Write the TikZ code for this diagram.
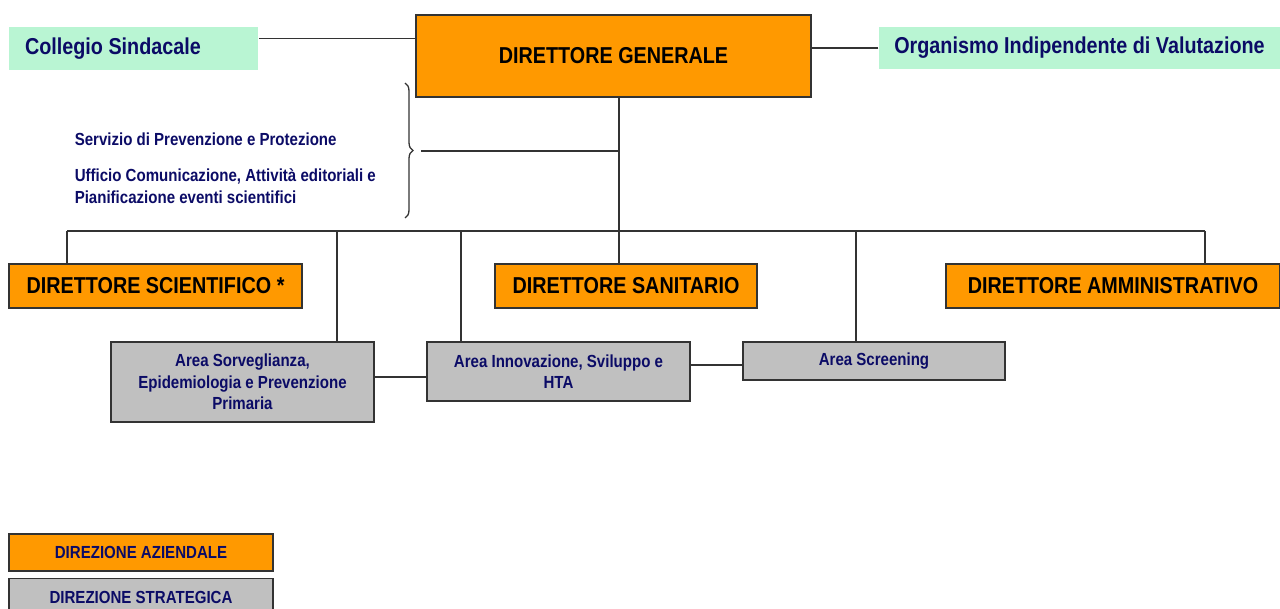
\documentclass[tikz,border=0pt]{standalone}
\usepackage{fontspec}
\setmainfont{Liberation Sans}[FakeStretch=0.86]
\usepackage{xcolor}
\usepackage{tikz}
\usetikzlibrary{calc,decorations.pathreplacing}
\definecolor{arancio}{HTML}{FF9900}
\definecolor{verdino}{HTML}{B9F5D3}
\definecolor{grigio}{HTML}{C0C0C0}
\definecolor{blunotte}{HTML}{0B0B66}
\definecolor{bordo}{HTML}{333333}

\begin{document}
\begin{tikzpicture}[x=1pt,y=-1pt,line width=1.5pt,draw=bordo,every edge/.style={draw=bordo,line width=1.6pt}]

  \useasboundingbox (0,0) rectangle (1280,609);
    \tikzstyle{dirbox}=[rectangle,draw=bordo,line width=1.5pt,fill=arancio,inner sep=0pt,text=black,font=\bfseries\fontsize{23}{26}\selectfont]
    \tikzstyle{areabox}=[rectangle,draw=bordo,line width=1.5pt,fill=grigio,inner sep=0pt,text=blunotte,align=center,font=\bfseries\fontsize{17.5}{21.5}\selectfont]
    \tikzstyle{organo}=[rectangle,fill=verdino,inner sep=0pt,text=blunotte,font=\bfseries\fontsize{23}{26}\selectfont]
    \tikzstyle{legenda}=[areabox,minimum width=264pt,minimum height=37pt]

  % vertice
  \node (dg) at (613.5,56) [dirbox,minimum width=395pt,minimum height=82pt] {DIRETTORE GENERALE};
  \node (coll) at (133.5,48.5) [organo,minimum width=249pt,minimum height=43pt,text width=217pt,align=flush left] {Collegio Sindacale};
  \node (oiv) at (1079.5,48) [organo,minimum width=401pt,minimum height=42pt] {Organismo Indipendente di Valutazione};

  % staff
  \node (staff) at (74,168) [anchor=west,align=left,text=blunotte,inner sep=0pt,font=\bfseries\fontsize{17.5}{22}\selectfont]
    {Servizio di Prevenzione e Protezione\\[14pt]Ufficio Comunicazione, Attività editoriali e\\Pianificazione eventi scientifici};
  \draw[line width=1.3pt,decorate,decoration={brace,amplitude=8pt}] (405,83) -- (405,218);
  \coordinate (graffa) at (421,151);

  % direttori
  \node (dsci) at (155.5,286) [dirbox,minimum width=293pt,minimum height=44pt] {DIRETTORE SCIENTIFICO *};
  \node (dsan) at (626,286) [dirbox,minimum width=262pt,minimum height=44pt] {DIRETTORE SANITARIO};
  \node (damm) at (1113,286) [dirbox,minimum width=334pt,minimum height=44pt] {DIRETTORE AMMINISTRATIVO};

  % aree
  \node (asorv) at (242.5,382) [areabox,minimum width=263pt,minimum height=80pt] {Area Sorveglianza,\\Epidemiologia e Prevenzione\\Primaria};
  \node (ainno) at (558.5,371.5) [areabox,minimum width=263pt,minimum height=59pt] {Area Innovazione, Sviluppo e\\HTA};
  \node (ascr) at (874,361) [areabox,minimum width=262pt,minimum height=38pt] {Area Screening};

  % legenda
  \node (leg1) at (141,552.5) [legenda,fill=arancio] {DIREZIONE AZIENDALE};
  \node (leg2) at (141,597) [legenda] {DIREZIONE STRATEGICA};

  % collegamenti
  \coordinate (asse) at (619,231);
  \coordinate (busL) at (67,231);
  \coordinate (busR) at (1205,231);
  \path ([yshift=10pt]coll.east) edge ([yshift=10pt]coll.east -| dg.west);
  \path (oiv.west) edge (oiv.west -| dg.east);
  \path (dg.south -| asse) edge (asse);
  \path (graffa) edge (graffa -| asse);
  \path (busL) edge (busR);
  \path (busL) edge (busL |- dsci.north);
  \path (asse) edge (asse |- dsan.north);
  \path (busR) edge (busR |- damm.north);
  \foreach \x/\n in {337/asorv,461/ainno,856/ascr}
    \path (\x,231) edge (\x,231 |- \n.north);
  \path ([yshift=5pt]asorv.east) edge ([yshift=5pt]asorv.east -| ainno.west);
  \path ([yshift=-4pt]ascr.west) edge ([yshift=-4pt]ascr.west -| ainno.east);
    \end{tikzpicture}
\end{document}
